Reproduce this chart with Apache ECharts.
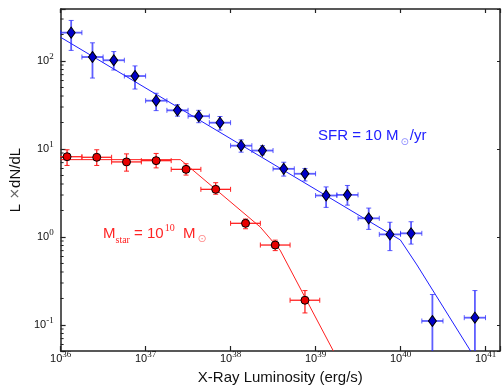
<!DOCTYPE html>
<html>
<head>
<meta charset="utf-8">
<script src="https://cdn.jsdelivr.net/npm/echarts@6/dist/echarts.min.js"></script>
<style>
html, body { margin: 0; padding: 0; background: #fff; }
#main { width: 503px; height: 390px; }
</style>
</head>
<body>
<div id="main"></div>
<script>
// SFR = 10 Msun/yr  (blue points)
const sfrX   = [1.33e36, 2.37e36, 4.22e36, 7.50e36, 1.33e37, 2.37e37, 4.22e37, 7.50e37, 1.33e38, 2.37e38,
                4.22e38, 7.50e38, 1.33e39, 2.37e39, 4.22e39, 7.50e39, 1.33e40, 2.37e40, 7.50e40];
const sfrXLo = [1e36, 1.78e36, 3.16e36, 5.62e36, 1e37, 1.78e37, 3.16e37, 5.62e37, 1e38, 1.78e38,
                3.16e38, 5.62e38, 1e39, 1.78e39, 3.16e39, 5.62e39, 1e40, 1.78e40, 5.62e40];
const sfrXHi = [1.78e36, 3.16e36, 5.62e36, 1e37, 1.78e37, 3.16e37, 5.62e37, 1e38, 1.78e38, 3.16e38,
                5.62e38, 1e39, 1.78e39, 3.16e39, 5.62e39, 1e40, 1.78e40, 3.16e40, 1e41];
const sfrY   = [210, 111, 102, 67.5, 35.4, 27.5, 23.6, 19.9, 10.9, 9.6, 5.95, 5.23, 2.96, 3.01, 1.63, 1.07, 1.10, 0.111, 0.121];
const sfrYLo = [132, 64, 79, 48, 27.3, 23.6, 19.9, 16.4, 9.2, 8.6, 4.92, 4.33, 2.17, 2.3, 1.22, 0.70, 0.83, 0.03, 0.03];
const sfrYHi = [289, 161, 128, 88, 43, 31.9, 27.5, 23.4, 12.7, 10.9, 7.07, 6.0, 3.71, 3.85, 2.13, 1.47, 1.49, 0.222, 0.246];

// Mstar = 1e10 Msun  (red points)
const mstX   = [1.19e36, 2.66e36, 5.96e36, 1.33e37, 2.99e37, 6.68e37, 1.50e38, 3.35e38, 7.50e38];
const mstXLo = [7.94e35, 1.78e36, 3.98e36, 8.91e36, 2.00e37, 4.47e37, 1e38, 2.24e38, 5.01e38];
const mstXHi = [1.78e36, 3.98e36, 8.91e36, 2.00e37, 4.47e37, 1e38, 2.24e38, 5.01e38, 1.12e39];
const mstY   = [8.17, 8.05, 7.13, 7.37, 5.87, 3.48, 1.43, 0.81, 0.191];
const mstYLo = [6.5, 6.5, 5.6, 6.1, 5.05, 3.06, 1.24, 0.70, 0.137];
const mstYHi = [9.8, 9.8, 8.8, 8.9, 6.8, 4.14, 1.60, 0.92, 0.246];

// model curves
const sfrModelX = [1e36, 9.95e39, 1.56e40, 6.68e40];
const sfrModelY = [186, 0.925, 0.481, 0.0505];
const mstModelX = [1e36, 2.57e37, 2.23e38, 3.82e38, 1.62e39];
const mstModelY = [7.57, 7.57, 1.30, 0.71, 0.0506];

// minor ticks on the left axis
const yMinorTicks = [0.06, 0.07, 0.08, 0.09, 0.2, 0.3, 0.4, 0.5, 0.6, 0.7, 0.8, 0.9,
                     2, 3, 4, 5, 6, 7, 8, 9, 20, 30, 40, 50, 60, 70, 80, 90, 200, 300];

const X_MIN = 1e36, X_MAX = 1.48e41;
const Y_MIN = 0.0506, Y_MAX = 390;

const FONT = 'Liberation Sans, Arial, sans-serif';
const SERIF = 'Liberation Serif, DejaVu Serif, serif';

function zip(a, b) {
	return a.map((v, i) => [v, b[i]]);
}

function errData(x, xl, xh, y, yl, yh) {
	return x.map((v, i) => [v, y[i], xl[i], xh[i], yl[i], yh[i]]);
}

// power-of-ten tick label, other ticks stay blank
function powLabel(v) {
	const l = Math.log10(v);
	const e = Math.round(l);
	if (Math.abs(l - e) > 1e-6) return '';
	return '{b|10}{e|' + e + '}';
}

const labelRich = {
	b: { fontSize: 11, fontFamily: FONT, color: '#111', lineHeight: 18, verticalAlign: 'middle' },
	e: { fontSize: 9, fontFamily: SERIF, color: '#111', verticalAlign: 'top' }
};

function errorBars(color, width, cap) {
	return function (params, api) {
		const x = api.value(0), y = api.value(1);
		const a = api.coord([api.value(2), y]);
		const b = api.coord([api.value(3), y]);
		const d = api.coord([x, api.value(4)]);
		const e = api.coord([x, api.value(5)]);
		const st = { stroke: color, lineWidth: width };
		const cs = { stroke: color, lineWidth: 1 };
		return {
			type: 'group',
			children: [
				{ type: 'line', shape: { x1: a[0], y1: a[1], x2: b[0], y2: b[1] }, style: st },
				{ type: 'line', shape: { x1: d[0], y1: d[1], x2: e[0], y2: e[1] }, style: st },
				{ type: 'line', shape: { x1: a[0], y1: a[1] - cap, x2: a[0], y2: a[1] + cap }, style: cs },
				{ type: 'line', shape: { x1: b[0], y1: b[1] - cap, x2: b[0], y2: b[1] + cap }, style: cs },
				{ type: 'line', shape: { x1: d[0] - cap, y1: d[1], x2: d[0] + cap, y2: d[1] }, style: cs },
				{ type: 'line', shape: { x1: e[0] - cap, y1: e[1], x2: e[0] + cap, y2: e[1] }, style: cs }
			]
		};
	};
}

const chart = echarts.init(document.getElementById('main'), null, { renderer: 'canvas' });

const axisLine = { show: true, onZero: false, lineStyle: { color: '#222', width: 1.5 } };

chart.setOption({
	animation: false,
	backgroundColor: '#fff',
	grid: { left: 60, top: 9, width: 444, height: 346.5, containLabel: false },
	xAxis: [
		{
			type: 'log', min: X_MIN, max: X_MAX, position: 'bottom',
			axisLine: axisLine,
			axisTick: { inside: true, length: 5, lineStyle: { color: '#222', width: 1.2 } },
			axisLabel: { margin: -1, formatter: powLabel, rich: labelRich },
			splitLine: { show: false },
			name: 'X-Ray Luminosity (erg/s)', nameLocation: 'middle', nameGap: 19,
			nameTextStyle: { fontSize: 15, color: '#111', fontFamily: FONT }
		},
		{
			type: 'log', min: X_MIN, max: X_MAX, position: 'top',
			axisLine: axisLine,
			axisTick: { inside: true, length: 4, lineStyle: { color: '#222', width: 1.2 } },
			axisLabel: { show: false },
			splitLine: { show: false }
		}
	],
	yAxis: [
		{
			type: 'log', min: Y_MIN, max: Y_MAX, position: 'left',
			axisLine: axisLine,
			axisTick: { inside: true, length: 5, lineStyle: { color: '#222', width: 1.2 } },
			axisLabel: { margin: 7, formatter: powLabel, rich: labelRich },
			splitLine: { show: false },
			name: '{a|L }{m|×}{a|dN/dL}', nameLocation: 'middle', nameGap: 28,
			nameTextStyle: {
				rich: {
					a: { fontSize: 15, color: '#111', fontFamily: FONT, verticalAlign: 'middle' },
					m: { fontSize: 14, color: '#666', fontFamily: 'DejaVu Sans', verticalAlign: 'middle' }
				}
			}
		},
		{
			type: 'log', min: Y_MIN, max: Y_MAX, position: 'right',
			axisLine: axisLine,
			axisTick: { inside: true, length: 3, lineStyle: { color: '#222' } },
			axisLabel: { show: false },
			splitLine: { show: false }
		}
	],
	graphic: [
		{
			type: 'text', x: 318, y: 136,
			style: {
				text: '{a|SFR = 10 M}{s|⊙}{a|/yr}',
				verticalAlign: 'middle',
				rich: {
					a: { fontSize: 15, fontFamily: FONT, fill: '#2020ff', lineHeight: 22, verticalAlign: 'middle' },
					s: { fontSize: 10, fontFamily: 'DejaVu Sans', fill: '#8a8aff', verticalAlign: 'bottom', padding: [0, 1, 0, 2] }
				}
			}
		},
		{
			type: 'text', x: 103, y: 234,
			style: {
				text: '{a|M}{s|star}{a| = 10}{p|10}{a|  M}{o|⊙}',
				verticalAlign: 'middle',
				rich: {
					a: { fontSize: 15, fontFamily: FONT, fill: '#ff2424', lineHeight: 22, verticalAlign: 'middle' },
					s: { fontSize: 10, fontFamily: SERIF, fill: '#ff2424', verticalAlign: 'bottom' },
					p: { fontSize: 10, fontFamily: SERIF, fill: '#ff2424', verticalAlign: 'top', padding: [0, 0, 0, 1] },
					o: { fontSize: 11, fontFamily: 'DejaVu Sans', fill: '#ff8a8a', verticalAlign: 'bottom', padding: [0, 0, 0, 2] }
				}
			}
		}
	],
	series: [
		{
			// minor ticks on the left axis
			type: 'custom', silent: true, z: 1,
			data: yMinorTicks.map(v => [X_MIN, v]),
			renderItem: function (params, api) {
				const p = api.coord([X_MIN, api.value(1)]);
				return { type: 'line', shape: { x1: p[0], y1: p[1], x2: p[0] + 3, y2: p[1] }, style: { stroke: '#222', lineWidth: 1 } };
			}
		},
		{
			type: 'line', silent: true, z: 2, showSymbol: false, clip: true,
			data: zip(sfrModelX, sfrModelY),
			lineStyle: { color: '#1e1eff', width: 1 }
		},
		{
			type: 'line', silent: true, z: 2, showSymbol: false, clip: true,
			data: zip(mstModelX, mstModelY),
			lineStyle: { color: '#ff2020', width: 1 }
		},
		{
			type: 'custom', silent: true, z: 3, clip: true,
			data: errData(sfrX, sfrXLo, sfrXHi, sfrY, sfrYLo, sfrYHi),
			renderItem: errorBars('rgba(40,40,255,0.75)', 1.8, 2.5)
		},
		{
			type: 'custom', silent: true, z: 3, clip: true,
			data: errData(mstX, mstXLo, mstXHi, mstY, mstYLo, mstYHi),
			renderItem: errorBars('#ff2020', 1.3, 2.5)
		},
		{
			type: 'scatter', silent: true, z: 4,
			data: zip(sfrX, sfrY),
			symbol: 'diamond', symbolSize: [8, 11],
			itemStyle: { color: '#0000c8', borderColor: '#000', borderWidth: 1, opacity: 1 }
		},
		{
			type: 'scatter', silent: true, z: 4,
			data: zip(mstX, mstY),
			symbol: 'circle', symbolSize: 8,
			itemStyle: { color: '#e80000', borderColor: '#000', borderWidth: 1, opacity: 1 }
		}
	]
});
</script>
</body>
</html>
